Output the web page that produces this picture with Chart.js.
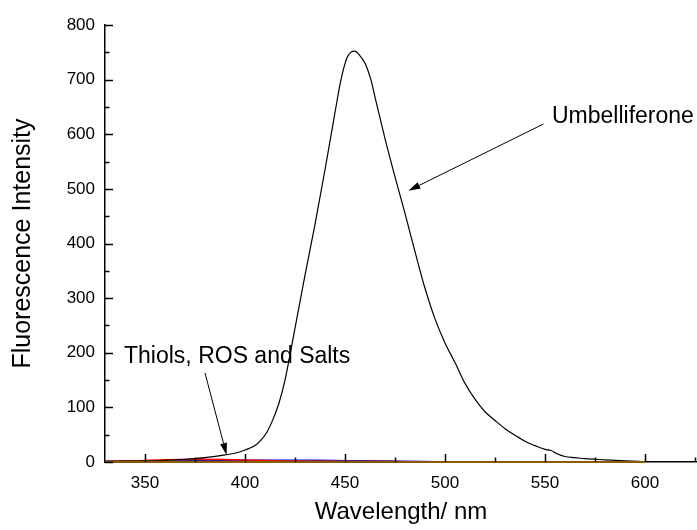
<!DOCTYPE html>
<html>
<head>
<meta charset="utf-8">
<script src="https://cdn.jsdelivr.net/npm/chart.js@4.4.1/dist/chart.umd.min.js"></script>
<style>
  html, body { margin: 0; padding: 0; background: #fff; }
  #spectrum { display: block; }
</style>
</head>
<body>
<canvas id="spectrum" width="697" height="530"></canvas>
<script>
// Emission spectrum of umbelliferone (nm, a.u.)
const umbWavelength = [330, 340, 350, 360, 370, 380, 390, 395, 400, 405, 408, 411, 414, 417, 420, 425, 430, 435, 440, 445, 448, 451, 453, 455, 457, 460, 463, 465, 470, 475, 480, 485, 490, 495, 500, 505, 510, 515, 520, 525, 530, 535, 540, 545, 550, 553, 556, 560, 565, 570, 580, 590, 600];
const umbIntensity  = [1, 1.5, 2, 3, 5, 8, 13, 16, 22, 30, 40, 55, 78, 108, 150, 245, 342, 435, 535, 640, 700, 740, 750, 752, 746, 730, 699, 668, 592, 522, 455, 385, 318, 262, 218, 182, 144, 115, 92, 76, 61, 49, 38, 30, 23, 21, 15, 10, 8, 6, 4, 2, 0.5];

// Control spectra (thiols, ROS, salts) – all stay close to zero
const ctrlWavelength = [330, 345, 360, 375, 390, 405, 420, 435, 450, 465, 480, 500, 525, 550, 575, 600];
const ctrlBrown   = [0.3, 0.3, 0.4, 0.5, 0.5, 0.4, 0.4, 0.3, 0.3, 0.3, 0.2, 0.2, 0.2, 0.1, 0.1, 0.1];
const ctrlRed     = [1, 2, 4, 5, 4.5, 3, 2, 1.5, 1, 0.8, 0.6, 0.5, 0.4, 0.3, 0.2, 0.1];
const ctrlBlue    = [1.5, 1.5, 1.5, 2, 2.5, 3, 3, 3, 2.5, 2, 1, 0.6, 0.4, 0.3, 0.2, 0.1];
const ctrlGreen   = [0.5, 1, 2, 3, 3.5, 2.5, 1.5, 1, 0.8, 0.6, 0.5, 0.4, 0.3, 0.2, 0.1, 0];
const ctrlMagenta = [0.5, 1, 2.5, 3.5, 3, 2, 1.5, 1.2, 1, 0.8, 0.5, 0.3, 0.2, 0.1, 0.1, 0];
const ctrlNavy    = [1, 1, 1.5, 2, 2, 2, 2, 2, 2, 1.5, 1, 0.5, 0.3, 0.2, 0.1, 0];
const ctrlPurple  = [0.5, 0.8, 1.5, 2.5, 2.5, 1.8, 1.2, 1, 0.8, 0.6, 0.4, 0.3, 0.2, 0.1, 0, 0];
const ctrlOlive   = [0.3, 0.4, 0.6, 0.8, 0.8, 0.6, 0.5, 0.4, 0.3, 0.3, 0.2, 0.2, 0.1, 0.1, 0.1, 0];

const xTickLabels = [350, 400, 450, 500, 550, 600];
const xMinorTicks = [375, 425, 475, 525, 575, 625];
const yTickLabels = [0, 100, 200, 300, 400, 500, 600, 700, 800];
const yMinorTicks = [50, 150, 250, 350, 450, 550, 650, 750];

// callouts in data units: label anchor, arrow tail, arrow head
const callouts = [
  { text: 'Umbelliferone', at: [553.5, 620], from: [549.2, 618.7], to: [481.7, 496.6] },
  { text: 'Thiols, ROS and Salts', at: [339.5, 181], from: [380, 163], to: [390.8, 12.8] }
];

const FONT = "'Liberation Sans', Arial, Helvetica, sans-serif";

function pairs(xs, ys) {
  return xs.map((x, i) => ({ x: x, y: ys[i] }));
}

function ctrlSet(values, color, width) {
  return {
    data: pairs(ctrlWavelength, values),
    borderColor: color,
    borderWidth: width || 1.5,
    pointRadius: 0,
    cubicInterpolationMode: 'monotone',
    clip: 4
  };
}

// inward major/minor ticks on both axes
const innerTicks = {
  id: 'innerTicks',
  afterDraw(chart) {
    const { ctx, chartArea, scales: { x, y } } = chart;
    ctx.save();
    ctx.strokeStyle = '#000';
    ctx.lineWidth = 1.5;
    ctx.beginPath();
    const xt = (v, len) => {
      const px = Math.round(x.getPixelForValue(v)) + 0.5;
      ctx.moveTo(px, chartArea.bottom);
      ctx.lineTo(px, chartArea.bottom - len);
    };
    const yt = (v, len) => {
      const py = Math.round(y.getPixelForValue(v)) + 0.5;
      ctx.moveTo(chartArea.left, py);
      ctx.lineTo(chartArea.left + len, py);
    };
    xTickLabels.forEach(v => xt(v, 8));
    xMinorTicks.forEach(v => xt(v, 4.5));
    yTickLabels.forEach(v => yt(v, 8));
    yMinorTicks.forEach(v => yt(v, 4.5));
    ctx.stroke();
    ctx.restore();
  }
};

const calloutLabels = {
  id: 'calloutLabels',
  afterDraw(chart) {
    const { ctx, scales: { x, y } } = chart;
    ctx.save();
    callouts.forEach(c => {
      const x0 = x.getPixelForValue(c.from[0]), y0 = y.getPixelForValue(c.from[1]);
      const x1 = x.getPixelForValue(c.to[0]), y1 = y.getPixelForValue(c.to[1]);
      const ang = Math.atan2(y1 - y0, x1 - x0);
      const head = 12, half = 3.5;
      const bx = x1 - head * Math.cos(ang), by = y1 - head * Math.sin(ang);

      ctx.strokeStyle = '#000';
      ctx.fillStyle = '#000';
      ctx.lineWidth = 1;
      ctx.beginPath();
      ctx.moveTo(x0, y0);
      ctx.lineTo(bx, by);
      ctx.stroke();

      ctx.beginPath();
      ctx.moveTo(x1, y1);
      ctx.lineTo(bx + half * Math.sin(ang), by - half * Math.cos(ang));
      ctx.lineTo(bx - half * Math.sin(ang), by + half * Math.cos(ang));
      ctx.closePath();
      ctx.fill();

      ctx.font = '23px ' + FONT;
      ctx.textAlign = 'left';
      ctx.textBaseline = 'alphabetic';
      ctx.fillText(c.text, x.getPixelForValue(c.at[0]), y.getPixelForValue(c.at[1]));
    });
    ctx.restore();
  }
};

const ctx = document.getElementById('spectrum').getContext('2d');
new Chart(ctx, {
  type: 'line',
  data: {
    datasets: [
      ctrlSet(ctrlBrown, '#8b5a00', 2),
      {
        data: pairs(umbWavelength, umbIntensity),
        borderColor: '#000',
        borderWidth: 1.2,
        pointRadius: 0,
        cubicInterpolationMode: 'monotone',
        clip: 4
      },
      ctrlSet(ctrlRed, '#ff0000'),
      ctrlSet(ctrlBlue, '#0000ff'),
      ctrlSet(ctrlGreen, '#008000'),
      ctrlSet(ctrlMagenta, '#ff00ff'),
      ctrlSet(ctrlNavy, '#000080'),
      ctrlSet(ctrlPurple, '#800080'),
      ctrlSet(ctrlOlive, '#808000')
    ]
  },
  options: {
    responsive: false,
    animation: false,
    devicePixelRatio: 1,
    layout: { padding: { top: 25, right: 0, left: 0, bottom: 0 } },
    plugins: {
      legend: { display: false },
      tooltip: { enabled: false }
    },
    scales: {
      x: {
        type: 'linear',
        min: 330,
        max: 626,
        afterBuildTicks: s => { s.ticks = xTickLabels.map(v => ({ value: v })); },
        afterFit: s => { s.height = 68; },
        grid: { display: false, drawTicks: false },
        border: { display: true, color: '#000', width: 1.5 },
        ticks: {
          color: '#000',
          padding: 11,
          maxRotation: 0,
          font: { family: FONT, size: 17 }
        },
        title: {
          display: true,
          text: 'Wavelength/ nm',
          color: '#000',
          padding: { top: 0, bottom: 3 },
          font: { family: FONT, size: 24 }
        }
      },
      y: {
        min: 0,
        max: 800,
        afterBuildTicks: s => { s.ticks = yTickLabels.map(v => ({ value: v })); },
        afterFit: s => { s.width = 105; },
        grid: { display: false, drawTicks: false },
        border: { display: true, color: '#000', width: 1.5 },
        ticks: {
          color: '#000',
          padding: 10,
          font: { family: FONT, size: 17 }
        },
        title: {
          display: true,
          text: 'Fluorescence Intensity',
          color: '#000',
          padding: { top: 8, bottom: 0 },
          font: { family: FONT, size: 25 }
        }
      }
    }
  },
  plugins: [innerTicks, calloutLabels]
});
</script>
</body>
</html>
